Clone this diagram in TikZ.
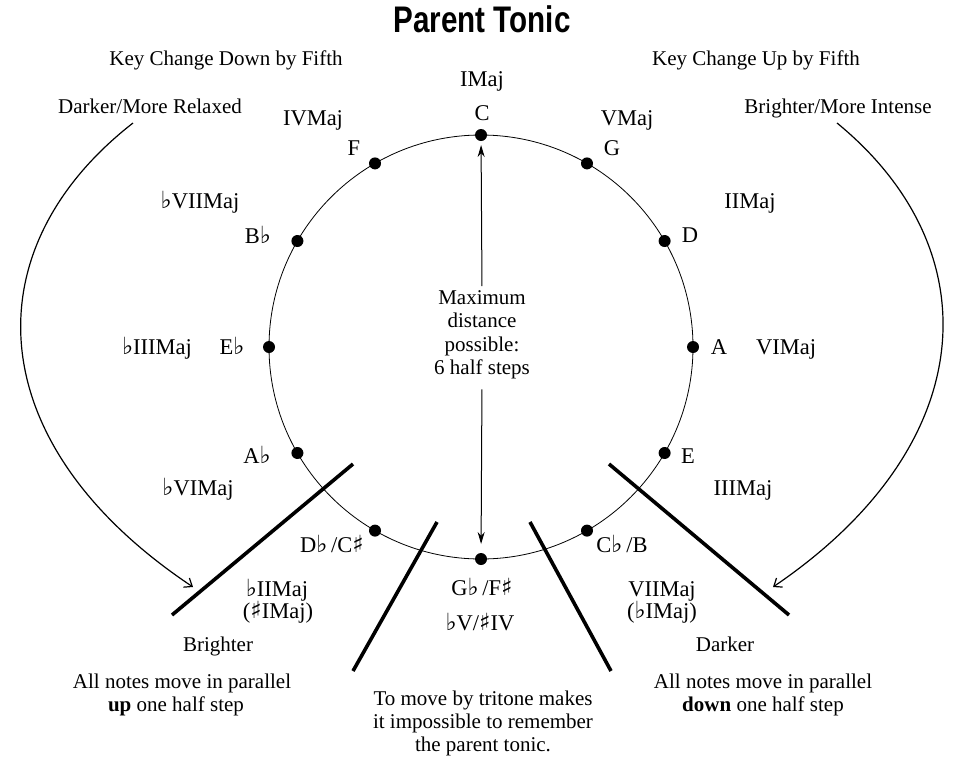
\documentclass[tikz,border=0pt]{standalone}
\usepackage{fontspec}
\setmainfont{Liberation Serif}
\newfontfamily\symfont[Scale=1.05]{DejaVu Sans}
\newfontfamily\titlefont[FakeStretch=0.8]{Liberation Sans}
\newcommand\myflat{{\symfont ♭}}
\newcommand\mysharp{{\symfont ♯}}
\usetikzlibrary{arrows.meta}
\begin{document}
\begin{tikzpicture}[x=1pt,y=-1pt,
  txt/.style={font=\fontsize{21}{23.5}\selectfont, inner sep=0pt, anchor=base},
  lab/.style={font=\fontsize{22.5}{24}\selectfont, inner sep=0pt, anchor=base},
  dot/.style={circle, fill=black, inner sep=0pt, minimum size=12pt},
  barline/.style={line width=3.6pt},
  arr/.style={-{Stealth[length=12pt,width=7pt]}, line width=1pt},
  curv/.style={-{Straight Barb[length=7pt,width=11pt]}, line width=1.2pt}]
\fill[white] (0,0) rectangle (957,758);
\useasboundingbox (0,0) rectangle (957,758);

% title
\node[anchor=base, inner sep=0pt, font=\titlefont\bfseries\fontsize{37}{40}\selectfont] (title) at (482,32) {Parent Tonic};

% circle
\coordinate (O) at (481,347);
\draw[line width=0.8pt] (O) circle [radius=212pt];

% dots
\node[dot] (nC)  at ([shift={(90:212pt)}]O) {};
\node[dot] (nG)  at ([shift={(60:212pt)}]O) {};
\node[dot] (nD)  at ([shift={(30:212pt)}]O) {};
\node[dot] (nA)  at ([shift={(0:212pt)}]O) {};
\node[dot] (nE)  at ([shift={(-30:212pt)}]O) {};
\node[dot] (nB)  at ([shift={(-60:212pt)}]O) {};
\node[dot] (nGb) at ([shift={(-90:212pt)}]O) {};
\node[dot] (nDb) at ([shift={(-120:212pt)}]O) {};
\node[dot] (nAb) at ([shift={(-150:212pt)}]O) {};
\node[dot] (nEb) at ([shift={(180:212pt)}]O) {};
\node[dot] (nBb) at ([shift={(150:212pt)}]O) {};
\node[dot] (nF)  at ([shift={(120:212pt)}]O) {};

% note labels
\node[lab] (lC)  at (482,120) {C};
\node[lab] (rC)  at (482,86) {IMaj};
\node[lab] (lG)  at (612,155) {G};
\node[lab] (rG)  at (627,125) {VMaj};
\node[lab] (lD)  at (690,242) {D};
\node[lab] (rD)  at (750,208) {IIMaj};
\node[lab] (lA)  at (719,354) {A};
\node[lab] (rA)  at (786,354) {VIMaj};
\node[lab] (lE)  at (688,463) {E};
\node[lab] (rE)  at (743,495) {IIIMaj};
\node[lab] (lB)  at (622,552) {C\myflat\,/B};
\node[lab] (rB)  at (662,596) {VIIMaj};
\node[lab] (rB2) at (662,618) {(\myflat IMaj)};
\node[lab] (lGb) at (482,595) {G\myflat\,/F\mysharp};
\node[lab] (rGb) at (480,630) {\myflat V/\mysharp IV};
\node[lab] (lDb) at (332,552) {D\myflat\,/C\mysharp};
\node[lab] (rDb) at (277,596) {\myflat IIMaj};
\node[lab] (rDb2) at (278,618) {(\mysharp IMaj)};
\node[lab] (lAb) at (257,463) {A\myflat};
\node[lab] (rAb) at (198,495) {\myflat VIMaj};
\node[lab] (lEb) at (232,354) {E\myflat};
\node[lab] (rEb) at (157,354) {\myflat IIIMaj};
\node[lab] (lBb) at (258,243) {B\myflat};
\node[lab] (rBb) at (200,208) {\myflat VIIMaj};
\node[lab] (lF)  at (354,155) {F};
\node[lab] (rF)  at (313,125) {IVMaj};

% top texts
\node[txt] (kdown) at (226,65) {Key Change Down by Fifth};
\node[txt] (kup)   at (756,65) {Key Change Up by Fifth};
\node[txt] (dmr)   at (150,113) {Darker/More Relaxed};
\node[txt] (bmi)   at (838,113) {Brighter/More Intense};

% centre text and arrows
\node[txt, align=center, anchor=north] (mx) at (482,290) {Maximum\\distance\\possible:\\6 half steps};
\draw[arr, shorten <=4pt, shorten >=10pt] (mx.north) -- (nC.center);
\draw[arr, shorten <=10pt, shorten >=15pt] (mx.south) -- (nGb.center);

% divider lines
\coordinate (d1a) at (353,464); \coordinate (d1b) at (172,615);
\coordinate (d2a) at (437,522); \coordinate (d2b) at (353,671);
\coordinate (d3a) at (530,522); \coordinate (d3b) at (611,671);
\coordinate (d4a) at (609,464); \coordinate (d4b) at (789,615);
\draw[barline] (d1a) -- (d1b);
\draw[barline] (d2a) -- (d2b);
\draw[barline] (d3a) -- (d3b);
\draw[barline] (d4a) -- (d4b);

% curved arrows
\coordinate (ls) at (133,123); \coordinate (le) at (193,587);
\coordinate (rs) at (837,123); \coordinate (re) at (773,587);
\draw[curv] (ls) .. controls (-30,250) and (-20,445) .. (le);
\draw[curv] (rs) .. controls (992,250) and (982,445) .. (re);

% bottom texts
\node[txt] (bright) at (218,651) {Brighter};
\node[txt] (allup1) at (182,688) {All notes move in parallel};
\node[txt] (allup2) at (176,711) {\textbf{up} one half step};
\node[txt] (dark)   at (725,651) {Darker};
\node[txt] (alldn1) at (763,688) {All notes move in parallel};
\node[txt] (alldn2) at (763,711) {\textbf{down} one half step};
\node[txt] (tri1) at (483,705) {To move by tritone makes};
\node[txt] (tri2) at (483,728) {it impossible to remember};
\node[txt] (tri3) at (483,751) {the parent tonic.};
\end{tikzpicture}
\end{document}
